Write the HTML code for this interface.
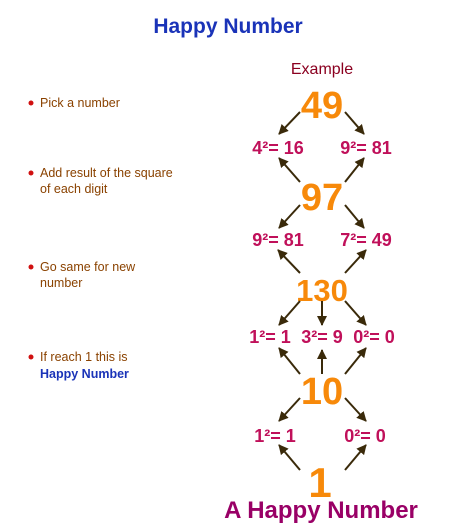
<!DOCTYPE html>
<html><head><meta charset="utf-8"><style>
body{margin:0;background:#fff;}
svg{display:block;font-family:"Liberation Sans",Arial,sans-serif;}
</style></head><body>
<svg width="457" height="529" viewBox="0 0 457 529">
<defs><marker id="ah" viewBox="0 0 10 10" refX="9" refY="5" markerWidth="5" markerHeight="5" orient="auto"><path d="M0,0 L10,5 L0,10 z" fill="#3a2a0a"/></marker></defs>
<text x="228" y="33" text-anchor="middle" font-size="21" font-weight="bold" fill="#1a33b8">Happy Number</text>
<text x="322" y="74" text-anchor="middle" font-size="16" fill="#8b0020">Example</text>
<g font-size="12.5" fill="#8a4200">
<circle cx="31" cy="103" r="2.5" fill="#d01010"/><text x="40" y="107">Pick a number</text>
<circle cx="31" cy="173" r="2.5" fill="#d01010"/><text x="40" y="177">Add result of the square</text>
<text x="40" y="193">of each digit</text>
<circle cx="31" cy="267" r="2.5" fill="#d01010"/><text x="40" y="271">Go same for new</text>
<text x="40" y="287">number</text>
<circle cx="31" cy="357" r="2.5" fill="#d01010"/><text x="40" y="361">If reach 1 this is</text>
<text x="40" y="378" fill="#1a33b8" font-weight="bold">Happy Number</text>
</g>
<g font-weight="bold" fill="#f7890a" text-anchor="middle">
<text x="322" y="118" font-size="38">49</text>
<text x="322" y="210" font-size="38">97</text>
<text x="322" y="301" font-size="31">130</text>
<text x="322" y="404" font-size="38">10</text>
<text x="320" y="497" font-size="42">1</text>
</g>
<g font-weight="bold" fill="#c0105a" font-size="18" text-anchor="middle">
<text x="278" y="154">4²= 16</text><text x="366" y="154">9²= 81</text>
<text x="278" y="246">9²= 81</text><text x="366" y="246">7²= 49</text>
<text x="270" y="343">1²= 1</text><text x="322" y="343">3²= 9</text><text x="374" y="343">0²= 0</text>
<text x="275" y="442">1²= 1</text><text x="365" y="442">0²= 0</text>
</g>
<g stroke="#3a2a0a" stroke-width="2" marker-end="url(#ah)">
<line x1="300" y1="112" x2="279" y2="134"/><line x1="345" y1="112" x2="364" y2="134"/>
<line x1="300" y1="182" x2="279" y2="158"/><line x1="345" y1="182" x2="364" y2="158"/>
<line x1="300" y1="205" x2="279" y2="228"/><line x1="345" y1="205" x2="364" y2="228"/>
<line x1="300" y1="273" x2="278" y2="250"/><line x1="345" y1="273" x2="366" y2="250"/>
<line x1="300" y1="301" x2="279" y2="325"/><line x1="322" y1="301" x2="322" y2="325"/><line x1="345" y1="301" x2="366" y2="325"/>
<line x1="300" y1="374" x2="279" y2="348"/><line x1="322" y1="374" x2="322" y2="350"/><line x1="345" y1="374" x2="366" y2="348"/>
<line x1="300" y1="398" x2="279" y2="421"/><line x1="345" y1="398" x2="366" y2="421"/>
<line x1="300" y1="470" x2="279" y2="445"/><line x1="345" y1="470" x2="366" y2="445"/>
</g>
<text x="321" y="518" text-anchor="middle" font-size="24" font-weight="bold" fill="#990066">A Happy Number</text>
</svg>
</body></html>
